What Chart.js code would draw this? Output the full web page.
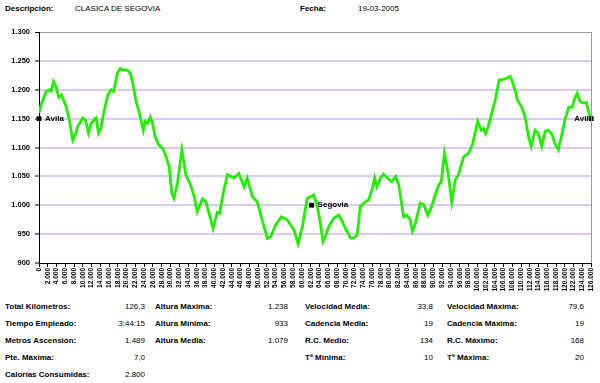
<!DOCTYPE html>
<html><head><meta charset="utf-8">
<script src="https://cdn.jsdelivr.net/npm/chart.js@4.4.0/dist/chart.umd.min.js"></script>
<style>
html,body{margin:0;padding:0;background:#fff;}
body{width:600px;height:383px;position:relative;overflow:hidden;font-family:"Liberation Sans",Arial,sans-serif;font-size:8px;color:#000;}
#wrap{position:absolute;left:0;top:0;width:600px;height:300px;}
.t{position:absolute;white-space:nowrap;line-height:10px;}
.b{font-weight:bold;}
.r{text-align:right;}
</style></head><body>
<div class="t b" style="left:5px;top:4px;">Descripción:</div>
<div class="t" style="left:75px;top:4px;">CLASICA DE SEGOVIA</div>
<div class="t b" style="left:300px;top:4px;">Fecha:</div>
<div class="t" style="left:358px;top:4px;">19-03-2005</div>
<div id="wrap"><canvas id="c" width="600" height="300"></canvas></div>
<div id="stats"></div>
<script>
// ---- data ----
const distances = [0,500,1600,2400,2800,3300,3900,4500,5100,5600,6200,6900,7700,8300,8800,10000,10600,11300,11900,12600,13000,13600,14200,14900,15700,16400,17000,17400,17900,18500,19500,20200,20800,21400,22100,22900,23800,24200,24800,25400,25900,26500,27300,28200,29000,29700,30300,30800,31600,32600,33500,34600,35400,36100,37300,38100,39700,40700,41200,42200,43000,44500,45600,46800,47500,48700,49800,50900,52100,52900,54000,55300,56600,58200,59100,60100,61200,62300,62700,63500,64200,64800,65400,66100,67300,68400,69200,69900,71100,71800,72600,73300,74500,75200,76000,76600,77100,77900,78600,79800,80500,81400,82100,83200,83900,84700,85200,85900,87000,87800,88700,89600,90400,91200,91800,92500,93300,94200,95000,95700,96900,98000,98900,100100,100900,101400,101900,102500,103500,104100,105000,106000,106700,107500,107900,108600,109200,110100,110900,111700,112300,113200,113900,114700,115500,116200,117100,117700,118500,119200,120000,120900,121700,122100,122800,123400,124200,124900,125700,126000];
const altitudes = [1160,1174,1197,1200,1198,1214,1205,1187,1191,1182,1171,1148,1113,1122,1136,1151,1148,1125,1142,1148,1151,1125,1136,1165,1191,1200,1197,1211,1229,1237,1234,1234,1229,1211,1182,1159,1130,1145,1142,1153,1142,1119,1105,1099,1084,1067,1021,1012,1038,1096,1053,1035,1015,989,1011,1006,960,988,986,1027,1053,1047,1055,1032,1047,1015,1006,975,943,946,966,980,975,957,933,963,1012,1016,1018,998,969,937,946,963,978,983,972,960,943,943,949,998,1006,1009,1027,1047,1032,1047,1054,1045,1041,1050,1035,980,983,975,955,969,1004,1001,983,998,1018,1035,1041,1090,1058,1006,1044,1053,1084,1090,1105,1145,1130,1133,1124,1136,1165,1182,1217,1218,1220,1223,1217,1200,1182,1171,1153,1119,1102,1130,1125,1102,1128,1130,1122,1107,1096,1119,1148,1170,1170,1182,1194,1180,1177,1178,1153,1150];
const placeNames = ["Avila","Segovia","Avila"];
const placeDistances = [0,62200,126000];
const placeAltitudes = [1150,1000,1150];
const yTicks = [900,950,1000,1050,1100,1150,1200,1250,1300];
const statLabels = [
 ["Total Kilómetros:","Tiempo Empleado:","Metros Ascensión:","Pte. Máxima:","Calorías Consumidas:"],
 ["Altura Máxima:","Altura Mínima:","Altura Media:","",""],
 ["Velocidad Media:","Cadencia Media:","R.C. Medio:","Tª Mínima:",""],
 ["Velocidad Máxima:","Cadencia Máxima:","R.C. Máximo:","Tª Máxima:",""]
];
const statValues = [
 ["126,3","3:44:15","1.489","7,0","2.800"],
 ["1.238","933","1.079","",""],
 ["33,8","19","134","10",""],
 ["79,6","19","168","20",""]
];
// ---- stats table ----
const colLabelX=[5,155,305,447], colValR=[145,288,433,584], rowY=[302,319,336,353,370];
const st=document.getElementById('stats');
statLabels.forEach((col,ci)=>col.forEach((lab,ri)=>{
  if(lab){const d=document.createElement('div');d.className='t b';d.style.left=colLabelX[ci]+'px';d.style.top=rowY[ri]+'px';d.textContent=lab;st.appendChild(d);}
  const v=statValues[ci][ri];
  if(v){const d=document.createElement('div');d.className='t r';d.style.left=(colValR[ci]-60)+'px';d.style.width='60px';d.style.top=rowY[ri]+'px';d.textContent=v;st.appendChild(d);}
}));
function fmt(n){return String(n).replace(/\B(?=(\d{3})+(?!\d))/g,'.');}
const labelPlugin={id:'labels',
 afterDatasetDraw(chart,args){
  if(args.index!==0)return;
  const ctx=chart.ctx, meta=chart.getDatasetMeta(1);
  ctx.save();ctx.font='bold 8px "Liberation Sans",Arial,sans-serif';ctx.fillStyle='#000';ctx.textBaseline='middle';
  meta.data.forEach((p,i)=>{
    let x=p.x+6; if(i===placeNames.length-1) x=p.x-17;
    ctx.fillText(placeNames[i],x,p.y);
  });
  ctx.restore();
 },
 afterDraw(chart){
  const a=chart.chartArea,ctx=chart.ctx;ctx.save();ctx.strokeStyle='#999';ctx.lineWidth=1;
  ctx.beginPath();ctx.moveTo(Math.round(a.right)+0.5,a.top);ctx.lineTo(Math.round(a.right)+0.5,a.bottom);ctx.stroke();ctx.restore();
 }};
new Chart(document.getElementById('c'),{
 type:'line',
 data:{datasets:[
  {data:distances.map((d,i)=>({x:d,y:altitudes[i]})),borderColor:'#22ee00',borderWidth:2.8,pointRadius:0,tension:0,order:1},
  {type:'scatter',data:placeDistances.map((d,i)=>({x:d,y:placeAltitudes[i]})),pointStyle:'rect',pointRadius:3.4,backgroundColor:'#000',borderColor:'#000',borderWidth:0,order:0,clip:false}
 ]},
 plugins:[labelPlugin],
 options:{animation:false,responsive:false,devicePixelRatio:1,
  layout:{padding:{left:0,right:7,top:32,bottom:7}},
  plugins:{legend:{display:false},tooltip:{enabled:false}},
  scales:{
   x:{type:'linear',min:0,max:126000,
    afterFit(s){s.height=30;},
    afterBuildTicks(s){s.ticks=Array.from({length:64},(_,i)=>({value:i*2000}));},
    ticks:{autoSkip:false,minRotation:90,maxRotation:90,padding:1,color:'#000',font:{size:6.5,weight:'bold',family:'"Liberation Sans",Arial,sans-serif'},callback:v=>fmt(v)},
    grid:{drawOnChartArea:false,color:'#000',tickColor:'#000',tickLength:4},
    border:{color:'#000',width:1}},
   y:{min:900,max:1300,
    afterFit(s){s.width=39;},
    afterBuildTicks(s){s.ticks=yTicks.map(v=>({value:v}));},
    ticks:{padding:5,color:'#000',font:{size:7.5,weight:'bold',family:'"Liberation Sans",Arial,sans-serif'},callback:v=>fmt(v)},
    grid:{color:c=>c.tick&&c.tick.value===1300?'#999':(c.tick&&c.tick.value===900?'rgba(0,0,0,0)':'#dcc8f4'),
      lineWidth:c=>c.tick&&c.tick.value===1300?1:2,tickColor:'#000',tickLength:4,tickWidth:1},
    border:{color:'#000',width:1}}
  }}
});
</script></body></html>
